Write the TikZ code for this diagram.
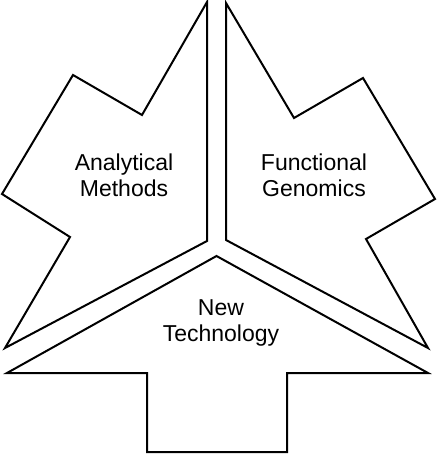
\documentclass[tikz,border=0pt]{standalone}
\usepackage{fontspec}
\setmainfont{Liberation Sans}

\begin{document}
\begin{tikzpicture}[x=1pt,y=-1pt,line width=2pt,line join=miter,
                    piece/.style={draw},
                    caption/.style={align=center,inner sep=0pt,
                                    font=\fontsize{23}{26}\selectfont}]
  \useasboundingbox (0,0) rectangle (436,454);
  % the three arrows meet at a Y-shaped gap in the middle
  \draw[piece] (207,2) -- (142,115) -- (73,75) -- (2,194) -- (70,237)
               -- (5,348) -- (207,241) -- cycle;
  \draw[piece] (226,3) -- (294,118) -- (363,78) -- (435,199) -- (366,239)
               -- (428,348) -- (226,240) -- cycle;
  \draw[piece] (216.5,256) -- (428,373) -- (287,373) -- (287,452)
               -- (147,452) -- (147,373) -- (7,373) -- cycle;
  \node[caption] (methods) at (124,175) {Analytical\\Methods};
  \node[caption] (genomics) at (314,175) {Functional\\Genomics};
  \node[caption] (technology) at (221,323) {New\\Technology};
\end{tikzpicture}
\end{document}
